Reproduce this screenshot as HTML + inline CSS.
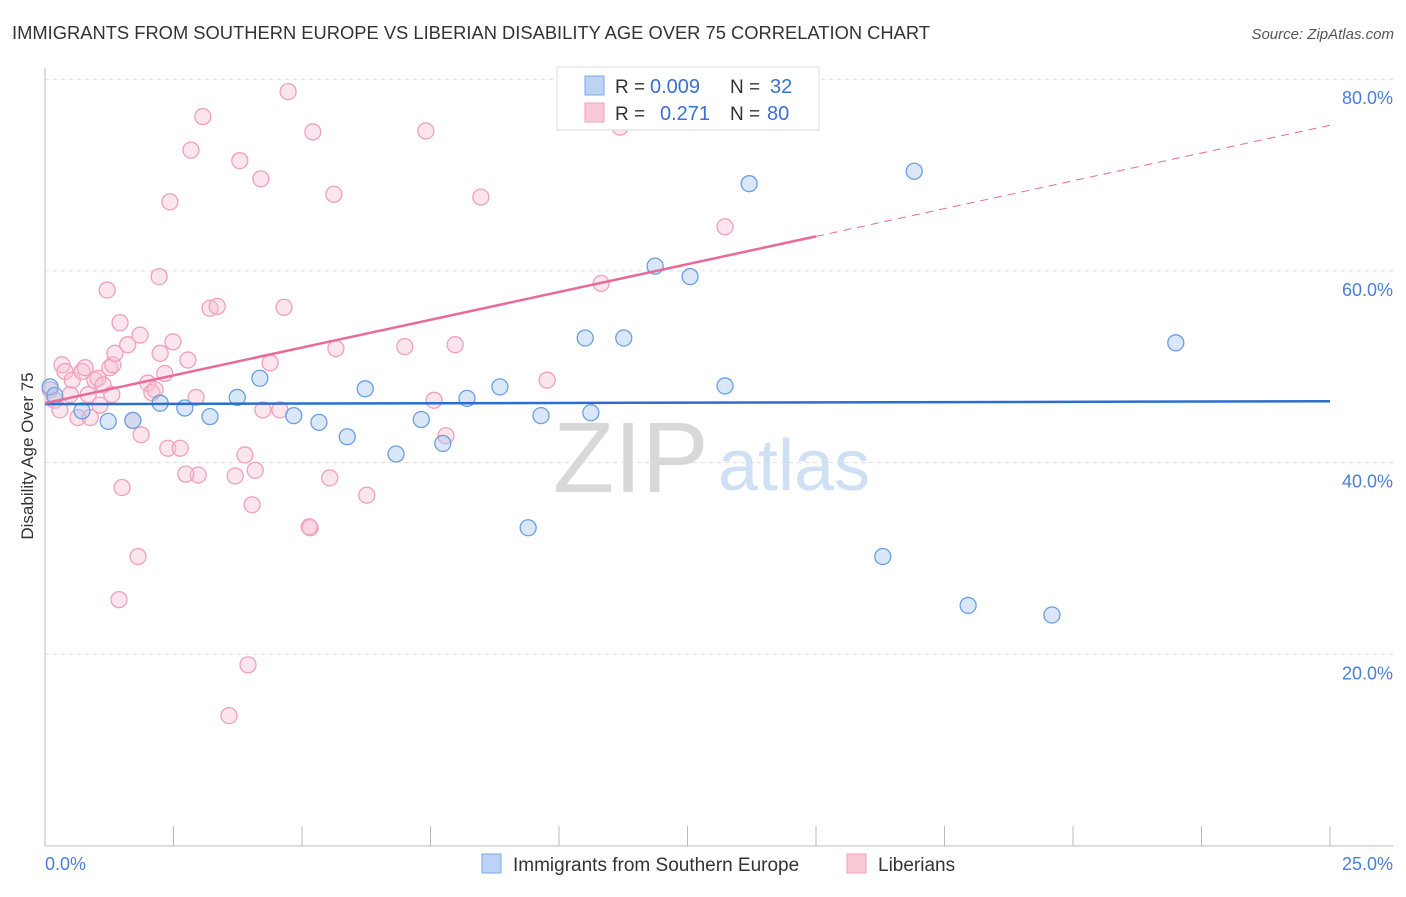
<!DOCTYPE html>
<html><head><meta charset="utf-8"><style>
body{margin:0;background:#fff;font-family:"Liberation Sans",sans-serif;}
svg text{font-family:"Liberation Sans",sans-serif;}
</style></head><body>
<svg id="chart" width="1406" height="892" viewBox="0 0 1406 892" xmlns="http://www.w3.org/2000/svg">
<text x="12" y="39" font-size="18" fill="#333" textLength="918" lengthAdjust="spacingAndGlyphs">IMMIGRANTS FROM SOUTHERN EUROPE VS LIBERIAN DISABILITY AGE OVER 75 CORRELATION CHART</text>
<text x="1394" y="39" font-size="15" fill="#555" text-anchor="end" font-style="italic">Source: ZipAtlas.com</text>
<g id="grid"></g>
<text x="553" y="492" font-size="100" fill="#d8d8d8" font-family="Liberation Serif">ZIP</text>
<text x="718" y="490" font-size="72" fill="#cfe0f4">atlas</text>
<g id="axes"></g>
<g id="pts"></g>
<g id="lines"></g>
<text transform="translate(33,456) rotate(-90)" font-size="17" fill="#333" text-anchor="middle">Disability Age Over 75</text>
<g>
<rect x="557" y="67" width="262" height="63" fill="#fff" stroke="#ddd"/>
<rect x="585" y="76" width="19" height="19" fill="#bcd3f5" stroke="#7aa7e6"/>
<rect x="585" y="103" width="19" height="19" fill="#f9c9d8" stroke="#f0a0bb"/>
<text x="615" y="93" font-size="19" fill="#333">R =</text>
<text x="650" y="93" font-size="20" fill="#3b6fd4">0.009</text>
<text x="730" y="93" font-size="19" fill="#333">N =</text>
<text x="770" y="93" font-size="20" fill="#3b6fd4">32</text>
<text x="615" y="120" font-size="19" fill="#333">R =</text>
<text x="660" y="120" font-size="20" fill="#3b6fd4">0.271</text>
<text x="730" y="120" font-size="19" fill="#333">N =</text>
<text x="767" y="120" font-size="20" fill="#3b6fd4">80</text>
</g>
<g>
<rect x="482" y="854" width="19" height="19" fill="#bcd3f5" stroke="#7aa7e6"/>
<text x="513" y="871" font-size="19" fill="#333">Immigrants from Southern Europe</text>
<rect x="847" y="854" width="19" height="19" fill="#f9c9d8" stroke="#f0a0bb"/>
<text x="878" y="871" font-size="19" fill="#333">Liberians</text>
</g>
</svg>
<script>
const blueX=[0.10,0.19,0.72,1.23,1.71,2.24,2.72,3.21,3.74,4.18,4.84,5.33,5.88,6.23,6.83,7.32,7.74,8.21,8.85,9.40,9.65,10.51,10.62,11.26,11.87,12.55,13.23,13.70,16.30,16.91,17.96,19.59,22.00];
const blueY=[47.9,47.0,45.4,44.3,44.4,46.2,45.7,44.8,46.8,48.8,44.9,44.2,42.7,47.7,40.9,44.5,42.0,46.7,47.9,33.2,44.9,53.0,45.2,53.0,60.5,59.4,48.0,69.1,30.2,70.4,25.1,24.1,52.5];
const pinkX=[0.10,0.19,0.29,0.33,0.39,0.49,0.53,0.64,0.72,0.78,0.84,0.88,0.97,1.03,1.07,1.13,1.21,1.26,1.32,1.36,1.46,1.50,1.44,1.61,1.71,1.81,1.85,1.87,2.00,2.08,2.14,2.22,2.24,2.33,2.39,2.43,2.49,2.63,2.78,2.84,2.94,2.98,3.07,3.21,3.35,3.70,3.58,3.79,3.89,3.95,4.03,4.09,4.20,4.24,4.38,4.57,4.65,4.73,5.16,5.21,5.54,5.62,5.66,6.26,7.00,7.41,7.57,7.80,7.98,8.48,9.77,10.82,11.19,13.23,1.30,2.74,5.14];
const pinkY=[47.6,46.5,45.5,50.2,49.5,47.1,48.6,44.7,49.5,49.9,47.1,44.7,48.6,48.8,46.0,48.1,58.0,49.9,50.2,51.4,54.6,37.4,25.7,52.3,44.4,30.2,53.3,42.9,48.3,47.3,47.6,59.4,51.4,49.3,41.5,67.2,52.6,41.5,50.7,72.6,46.8,38.7,76.1,56.1,56.3,38.6,13.6,71.5,40.8,18.9,35.6,39.2,69.6,45.5,50.4,45.5,56.2,78.7,33.2,74.5,38.4,68.0,51.9,36.6,52.1,74.6,46.5,42.8,52.3,67.7,48.6,58.7,75.0,64.6,47.1,38.8,33.3];
const xTicks=[0,2.5,5,7.5,10,12.5,15,17.5,20,22.5,25];
const yTicks=[20,40,60,80];
const yTickLabels=["20.0%","40.0%","60.0%","80.0%"];
const blueTrend=[46.1,46.4];
const pinkTrend=[46.2,1.16];
const NS="http://www.w3.org/2000/svg";
const sx=v=>45+v/25*1285, sy=v=>846-v*9.585;
function mk(tag,attrs,parent){const e=document.createElementNS(NS,tag);for(const k in attrs)e.setAttribute(k,attrs[k]);document.getElementById(parent).appendChild(e);return e;}
yTicks.forEach((t,i)=>{
 const l=mk('line',{x1:45,x2:1393,y1:sy(t),y2:sy(t),stroke:'#ddd','stroke-dasharray':'4,4'},'grid');
 
 
 const tx=mk('text',{x:1393,y:sy(t)+25,'font-size':18,fill:'#4a7fd4','text-anchor':'end'},'grid');
 tx.textContent=yTickLabels[i];
 
 
});
mk('line',{x1:45,x2:45,y1:68,y2:846,stroke:'#bbb'},'axes');
mk('line',{x1:45,x2:1393,y1:846,y2:846,stroke:'#bbb'},'axes');
xTicks.forEach(t=>{const l=mk('line',{x1:sx(t),x2:sx(t),y1:826,y2:846,stroke:'#bbb'},'axes');
 
 });
const x0=mk('text',{x:45,y:870,'font-size':18,fill:'#4a7fd4'},'axes');x0.textContent='0.0%';
const x1=mk('text',{x:1393,y:870,'font-size':18,fill:'#4a7fd4','text-anchor':'end'},'axes');x1.textContent='25.0%';
pinkX.forEach((x,i)=>{const c=mk('circle',{cx:sx(x),cy:sy(pinkY[i]),r:8,fill:'rgba(248,190,210,0.4)',stroke:'#f0a0bb','stroke-width':1.3},'pts');
 
 });
blueX.forEach((x,i)=>{const c=mk('circle',{cx:sx(x),cy:sy(blueY[i]),r:8,fill:'rgba(160,196,240,0.4)',stroke:'#6a9fe0','stroke-width':1.3},'pts');
 
 });
const bl=mk('line',{x1:sx(0),y1:sy(blueTrend[0]),x2:sx(25),y2:sy(blueTrend[1]),stroke:'#2a6fcf','stroke-width':2.5},'lines');


const pl=mk('line',{x1:sx(0),y1:sy(pinkTrend[0]),x2:sx(15),y2:sy(pinkTrend[0]+15*pinkTrend[1]),stroke:'#e86a98','stroke-width':2.5},'lines');


const pd=mk('line',{x1:sx(15),y1:sy(pinkTrend[0]+15*pinkTrend[1]),x2:sx(25),y2:sy(pinkTrend[0]+25*pinkTrend[1]),stroke:'#e86a98','stroke-width':1,'stroke-dasharray':'8,6'},'lines');


</script>
</body></html>
